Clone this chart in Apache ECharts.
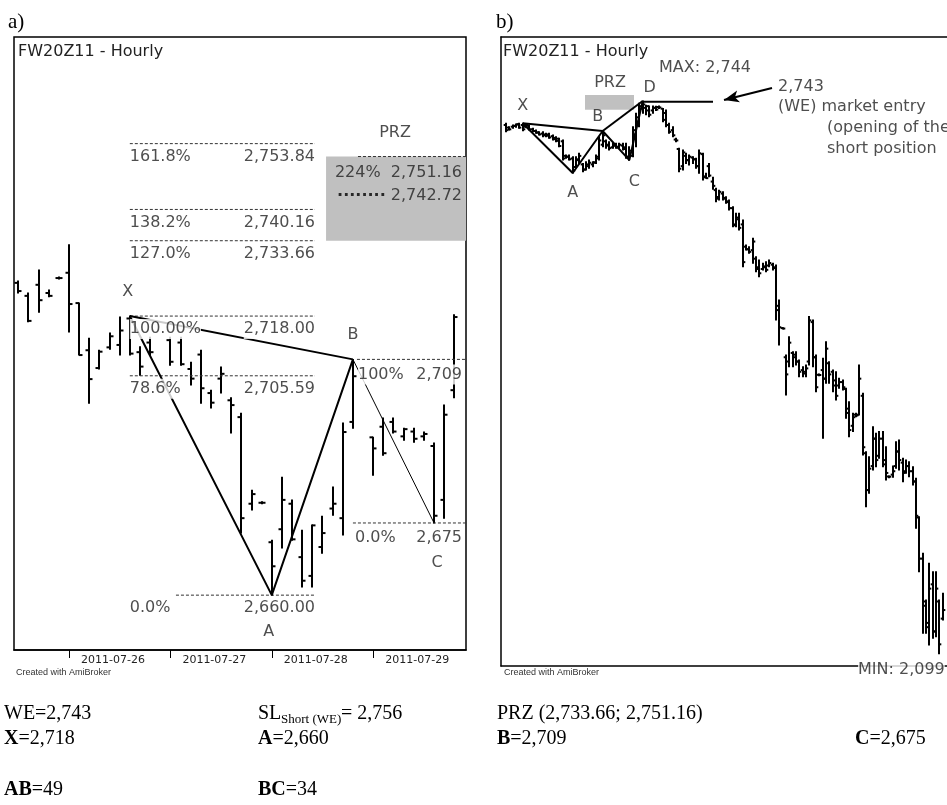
<!DOCTYPE html>
<html>
<head>
<meta charset="utf-8">
<script src="https://cdn.jsdelivr.net/npm/echarts@6/dist/echarts.min.js"></script>
<style>
  html, body { margin: 0; padding: 0; background: #fff; }
  #chart { width: 947px; height: 805px; }
</style>
</head>
<body>
<div id="chart"></div>
<script>
// ---------- Panel a: FW20Z11 hourly bars, 2011-07-25 .. 2011-07-29 ----------
// each bar: [open, close, low, high]; null = no bar drawn in that slot
const aBars = [
  [2724.9, 2723.2, 2722.8, 2725.3],
  [2722.2, 2717.0, 2716.8, 2722.8],
  [2724.5, 2721.3, 2718.8, 2727.6],
  [2722.8, 2722.2, 2722.0, 2723.4],
  [2725.9, 2725.9, 2725.7, 2726.1],
  [2727.0, 2720.5, 2714.7, 2732.8],
  [2720.7, 2709.9, 2709.9, 2720.7],
  [2710.9, 2704.9, 2699.9, 2713.4],
  [2707.2, 2710.6, 2707.0, 2710.9],
  [2711.5, 2713.8, 2711.1, 2714.5],
  [2712.0, 2715.0, 2709.9, 2717.8],
  [2717.5, 2710.2, 2709.9, 2718.0],
  [2710.5, 2707.5, 2705.7, 2711.6],
  [2712.5, 2710.5, 2709.9, 2713.6],
  null,
  [2713.0, 2708.5, 2707.8, 2713.6],
  [2712.5, 2708.0, 2707.8, 2713.6],
  [2707.0, 2705.0, 2703.7, 2708.4],
  [2710.0, 2703.0, 2699.9, 2710.9],
  [2702.0, 2700.0, 2698.9, 2702.6],
  [2705.0, 2706.0, 2702.0, 2707.4],
  [2700.5, 2699.5, 2693.7, 2701.0],
  [2697.0, 2676.0, 2672.9, 2697.8],
  [2679.0, 2681.0, 2677.7, 2681.8],
  [2679.2, 2679.2, 2679.0, 2679.4],
  [2671.0, 2666.0, 2660.0, 2671.4],
  [2673.7, 2679.8, 2669.8, 2684.5],
  [2679.0, 2671.6, 2671.4, 2679.8],
  [2667.9, 2663.0, 2661.7, 2673.5],
  [2664.0, 2674.5, 2661.7, 2674.6],
  [2670.0, 2672.9, 2668.7, 2676.4],
  [2678.0, 2679.0, 2676.6, 2682.5],
  [2676.0, 2693.9, 2672.5, 2695.8],
  [2696.0, 2705.5, 2694.7, 2709.0],
  null,
  [2692.8, 2690.5, 2684.9, 2692.8],
  [2695.0, 2689.5, 2689.1, 2696.8],
  [2696.0, 2694.0, 2693.7, 2696.8],
  [2693.0, 2694.5, 2692.2, 2694.7],
  [2694.0, 2692.5, 2691.8, 2694.7],
  [2693.0, 2693.5, 2692.2, 2693.9],
  [2691.0, 2676.5, 2675.0, 2691.6],
  [2679.8, 2697.5, 2676.0, 2699.5],
  [2702.6, 2717.8, 2701.0, 2718.3]
];
// first bar of each trading day and its date label
const aDayStart = [5, 15, 25, 35];
const aDayLabels = ['2011-07-26', '2011-07-27', '2011-07-28', '2011-07-29'];

// XABC pivots: [bar index, price]
const aX = [11, 2718], aA = [25, 2660], aB = [33, 2709], aC = [41, 2675];

// Fibonacci levels of the XA leg
const aLevels   = [2753.84, 2740.16, 2733.66, 2718.00, 2705.59, 2660.00];
const aLevelPct = ['161.8%', '138.2%', '127.0%', '100.00%', '78.6%', '0.0%'];
// BC retracement levels
const bcLevels = [2709, 2675];
const bcPct    = ['100%', '0.0%'];
// potential reversal zone
const przLow = 2733.66, przHigh = 2751.16, przMid = 2742.72, przExtPct = '224%';

// ---------- Panel b: same contract, longer window ----------
const bBars = [
  [2716.0, 2710.0, 2708.2, 2718.0], [2713.0, 2711.0, 2710.2, 2714.1], [2714.0, 2715.0, 2712.1, 2716.0],
  [2715.0, 2716.5, 2713.3, 2717.2], [2717.0, 2713.0, 2712.1, 2718.0], [2716.0, 2711.0, 2709.4, 2718.0],
  [2714.0, 2716.0, 2713.3, 2717.2], [2715.0, 2711.0, 2710.2, 2716.0], [2711.0, 2709.0, 2708.2, 2712.1],
  [2709.0, 2707.0, 2706.3, 2710.2], [2707.5, 2705.0, 2704.4, 2708.2], [2706.0, 2704.0, 2702.4, 2708.2],
  [2705.0, 2703.5, 2702.4, 2706.3], [2705.0, 2701.5, 2700.5, 2706.3], [2703.0, 2699.5, 2698.5, 2704.4],
  [2701.0, 2697.5, 2696.6, 2702.4], [2700.0, 2691.5, 2690.7, 2700.5], [2697.0, 2677.0, 2675.1, 2698.5],
  [2680.0, 2679.0, 2677.1, 2681.0], [2679.0, 2676.0, 2675.1, 2681.0], [2677.0, 2663.0, 2660.0, 2679.0],
  [2667.0, 2676.0, 2666.0, 2679.0], [2675.0, 2680.0, 2671.2, 2682.9], [2670.0, 2664.0, 2661.5, 2671.2],
  [2664.0, 2670.0, 2663.5, 2673.2], [2668.0, 2672.0, 2665.4, 2675.1], [2670.0, 2672.5, 2667.3, 2673.2],
  [2672.0, 2679.0, 2671.2, 2681.0], [2677.0, 2698.0, 2675.1, 2702.4], [2693.0, 2704.0, 2690.7, 2709.0],
  [2697.0, 2692.0, 2688.8, 2698.5], [2693.0, 2689.0, 2686.8, 2696.6], [2690.0, 2692.0, 2688.8, 2694.6],
  [2692.0, 2690.0, 2688.8, 2694.6], [2690.0, 2693.0, 2688.8, 2694.6], [2692.0, 2688.0, 2686.8, 2694.6],
  [2690.0, 2679.0, 2677.1, 2694.6], [2679.0, 2686.0, 2675.0, 2690.7], [2680.0, 2710.0, 2679.0, 2714.1],
  [2705.0, 2725.0, 2690.7, 2729.6], [2720.0, 2738.0, 2714.1, 2741.3], [2735.0, 2740.0, 2729.6, 2744.0],
  [2736.0, 2733.0, 2728.0, 2739.0], [2738.0, 2728.0, 2725.7, 2738.2], [2733.0, 2736.0, 2729.6, 2738.2],
  [2736.0, 2734.0, 2733.0, 2738.0], [2737.0, 2736.5, 2735.4, 2738.2], [2735.0, 2722.0, 2719.9, 2735.4],
  [2730.0, 2716.0, 2714.1, 2733.5], [2716.0, 2708.0, 2706.3, 2718.0], [2710.0, 2704.0, 2702.4, 2714.1],
  [2699.0, 2698.0, 2696.6, 2700.5], [2688.0, 2665.0, 2661.5, 2688.8], [2668.0, 2684.0, 2663.5, 2686.8],
  [2680.0, 2675.0, 2671.2, 2682.9], [2675.0, 2679.0, 2669.3, 2681.0], [2678.0, 2676.0, 2671.2, 2679.0],
  [2676.0, 2668.0, 2665.4, 2677.1], [2668.0, 2683.0, 2659.6, 2686.8], [2682.0, 2655.0, 2651.8, 2682.9],
  [2656.0, 2654.0, 2653.8, 2659.6], [2668.0, 2657.0, 2655.7, 2671.2], [2650.0, 2645.0, 2641.0, 2655.0],
  [2640.0, 2630.0, 2626.5, 2642.1], [2632.0, 2638.0, 2628.5, 2640.0], [2636.0, 2631.0, 2628.5, 2638.2],
  [2630.0, 2626.0, 2624.6, 2632.4], [2627.0, 2619.0, 2616.8, 2628.5], [2619.0, 2599.0, 2597.4, 2620.7],
  [2600.0, 2606.0, 2597.4, 2612.9], [2608.0, 2596.0, 2593.5, 2612.9], [2600.0, 2556.0, 2550.7, 2605.2],
  [2574.0, 2571.0, 2570.1, 2576.0], [2571.0, 2568.0, 2566.3, 2574.0], [2570.0, 2580.0, 2554.6, 2583.8],
  [2560.0, 2548.0, 2544.9, 2562.4], [2550.0, 2543.0, 2539.0, 2558.5], [2548.0, 2551.0, 2546.8, 2554.6],
  [2550.0, 2547.0, 2544.9, 2556.5], [2552.0, 2555.0, 2550.7, 2558.5], [2553.0, 2549.0, 2546.8, 2554.6],
  [2550.0, 2500.0, 2488.5, 2552.6], [2505.0, 2480.0, 2459.3, 2511.8], [2479.0, 2478.5, 2478.0, 2479.5],
  [2445.0, 2425.0, 2401.0, 2447.6], [2440.0, 2462.0, 2434.0, 2469.0], [2450.0, 2445.0, 2434.0, 2451.5],
  [2448.0, 2440.0, 2435.9, 2451.5], [2440.0, 2428.0, 2422.3, 2441.8], [2430.0, 2426.0, 2422.3, 2434.0],
  [2428.0, 2432.0, 2422.3, 2435.9], [2440.0, 2488.0, 2435.9, 2492.4], [2486.0, 2445.0, 2434.0, 2488.5],
  [2445.0, 2410.0, 2404.8, 2447.6], [2424.5, 2424.3, 2423.5, 2425.5], [2430.0, 2420.0, 2350.4, 2443.7],
  [2420.0, 2455.0, 2414.6, 2463.2], [2438.0, 2425.0, 2414.6, 2439.8], [2428.0, 2412.0, 2404.8, 2430.1],
  [2418.0, 2400.0, 2395.1, 2428.2], [2412.0, 2416.0, 2408.7, 2420.4], [2416.0, 2410.0, 2406.8, 2418.4],
  [2408.0, 2380.0, 2373.7, 2408.7], [2385.0, 2360.0, 2352.3, 2393.2], [2365.0, 2375.0, 2358.2, 2379.5],
  [2378.0, 2377.0, 2375.7, 2379.5], [2378.0, 2420.0, 2377.6, 2435.9], [2400.0, 2340.0, 2330.9, 2402.9],
  [2333.0, 2290.0, 2270.6, 2334.8], [2290.0, 2315.0, 2286.2, 2329.0], [2318.0, 2350.0, 2313.4, 2364.0],
  [2350.0, 2325.0, 2317.3, 2356.2], [2330.0, 2350.0, 2327.0, 2358.2], [2350.0, 2320.0, 2317.3, 2358.2],
  [2325.0, 2310.0, 2301.7, 2340.6], [2305.8, 2305.6, 2304.5, 2306.5], [2308.0, 2312.0, 2305.0, 2318.0],
  [2318.0, 2335.0, 2315.4, 2346.5], [2335.0, 2325.0, 2313.4, 2348.4], [2322.0, 2310.0, 2299.8, 2327.0],
  [2312.0, 2318.0, 2309.5, 2325.1], [2318.0, 2312.0, 2305.6, 2323.1], [2312.0, 2300.0, 2295.9, 2317.3],
  [2300.0, 2260.0, 2245.3, 2303.7], [2258.0, 2210.0, 2194.8, 2259.0], [2210.0, 2160.0, 2122.8, 2216.2],
  [2155.0, 2130.0, 2122.8, 2161.7], [2135.0, 2175.0, 2109.2, 2204.5], [2180.0, 2125.0, 2117.0, 2194.8],
  [2125.0, 2175.0, 2118.9, 2194.8], [2160.0, 2110.0, 2099.0, 2161.7], [2140.0, 2150.0, 2138.4, 2169.5]
];
// XABCD pivots: [bar index, price]
const bX = [5, 2718], bA = [20, 2660], bB = [29, 2709], bC = [37, 2675], bD = [41, 2744];
const bMax = 2744, bMin = 2099, bEntry = 2743;

// ---------- helpers ----------
const fmt = (v, d) => v.toLocaleString('en-US', { minimumFractionDigits: d, maximumFractionDigits: d });
const SANS = 'DejaVu Sans';
const SERIF = 'Liberation Serif';

// OHLC bar: vertical high-low stroke, open tick left, close tick right
function ohlcSeries(bars, axis, tick, width) {
  const data = [];
  bars.forEach((b, i) => { if (b) data.push([i, b[0], b[1], b[2], b[3]]); });
  return {
    type: 'custom', xAxisIndex: axis, yAxisIndex: axis, z: 2, clip: true, silent: true,
    data,
    encode: { x: 0, y: [1, 2, 3, 4] },
    renderItem(params, api) {
      const i = api.value(0);
      const o = api.coord([i, api.value(1)]);
      const c = api.coord([i, api.value(2)]);
      const l = api.coord([i, api.value(3)]);
      const h = api.coord([i, api.value(4)]);
      const x = Math.round(h[0]);
      const st = { stroke: '#000', lineWidth: width };
      return {
        type: 'group',
        children: [
          { type: 'line', shape: { x1: x, y1: h[1] - 0.5, x2: x, y2: l[1] + 0.5 }, style: st },
          { type: 'line', shape: { x1: x - width / 2 - tick, y1: o[1], x2: x, y2: o[1] }, style: st },
          { type: 'line', shape: { x1: x, y1: c[1], x2: x + width / 2 + tick, y2: c[1] }, style: st }
        ]
      };
    }
  };
}

function lineSeries(axis, pts, width, type, color, z) {
  return {
    type: 'line', xAxisIndex: axis, yAxisIndex: axis, data: pts, symbol: 'none', silent: true,
    lineStyle: { color: color || '#000', width, type: type || 'solid' }, z: z || 3
  };
}

function textSeries(axis, items) {
  return {
    type: 'scatter', xAxisIndex: axis, yAxisIndex: axis, symbolSize: 0, z: 10, silent: true,
    itemStyle: { color: 'transparent' },
    data: items.map(t => ({
      value: [t.x, t.y],
      label: Object.assign({
        show: true, formatter: t.text, position: [0, 0],
        align: t.align || 'left', verticalAlign: 'middle',
        offset: [t.dx || 0, t.dy || 0],
        fontFamily: SANS, fontSize: 16, color: '#222',
        backgroundColor: t.bg === undefined ? '#fff' : t.bg,
        padding: [2, 0]
      }, t.style || {})
    }))
  };
}

// ---------- panel a annotations ----------
const aSeries = [];
aSeries.push({
  type: 'line', xAxisIndex: 0, yAxisIndex: 0, data: [], z: 1, silent: true,
  markArea: { silent: true, itemStyle: { color: '#c0c0c0' },
    data: [[{ coord: [30.35, przHigh] }, { coord: [44.15, przLow] }]] }
});
aLevels.forEach((lv) => {
  const start = lv === aA[1] ? 15.55 : 11.0;
  aSeries.push(lineSeries(0, [[start, lv], [29.26, lv]], 1, [3, 2], '#333'));
});
bcLevels.forEach((lv, k) => {
  aSeries.push(lineSeries(0, [[k === 0 ? 33.4 : 33.0, lv], [44.15, lv]], 1, [3, 2], '#333'));
});
aSeries.push(lineSeries(0, [[33.5, przHigh], [44.15, przHigh]], 1, [3, 2], '#333'));
aSeries.push(ohlcSeries(aBars, 0, 2.5, 2));
aSeries.push(lineSeries(0, [aX, aA, aB], 2));
aSeries.push(lineSeries(0, [aX, aB], 2));
aSeries.push(lineSeries(0, [aB, aC], 1));

const aLabels = [];
aLevels.forEach((lv, k) => {
  aLabels.push({ x: 11.0, y: lv, text: aLevelPct[k], dy: 13 });
  aLabels.push({ x: 29.26, y: lv, text: fmt(lv, 2), align: 'right', dy: 13 });
});
bcLevels.forEach((lv, k) => {
  aLabels.push({ x: k === 0 ? 33.5 : 33.2, y: lv, text: bcPct[k], dy: 15 });
  aLabels.push({ x: 43.76, y: lv, text: fmt(lv, 0), align: 'right', dy: 15 });
});
aLabels.push({ x: 37.15, y: przHigh, text: 'PRZ', align: 'center', dy: -24, bg: null });
aLabels.push({ x: 43.76, y: przHigh, text: przExtPct + '  ' + fmt(przHigh, 2), align: 'right', dy: 16, bg: null });
aLabels.push({ x: 43.76, y: przMid, text: '{d|········} ' + fmt(przMid, 2), align: 'right', dy: -1, bg: null,
  style: { rich: { d: { fontFamily: SANS, fontSize: 16, fontWeight: 'bold', color: '#000' } } } });
aLabels.push({ x: aX[0], y: aX[1], text: 'X', align: 'center', dy: -24, dx: -2, bg: null });
aLabels.push({ x: aA[0], y: aA[1], text: 'A', align: 'center', dy: 37, dx: -3, bg: null });
aLabels.push({ x: aB[0], y: aB[1], text: 'B', align: 'center', dy: -25, bg: null });
aLabels.push({ x: aC[0], y: aC[1], text: 'C', align: 'center', dy: 40, dx: 3, bg: null });
aSeries.push(textSeries(0, aLabels));

// ---------- panel b annotations ----------
const bSeries = [];
bSeries.push({
  type: 'line', xAxisIndex: 1, yAxisIndex: 1, data: [], z: 1, silent: true,
  markArea: { silent: true, itemStyle: { color: '#c0c0c0' },
    data: [[{ coord: [23.7, przHigh] }, { coord: [38.4, przLow] }]] }
});
bSeries.push(ohlcSeries(bBars, 1, 1.3, 2));
bSeries.push(lineSeries(1, [bX, bA, bB, bC, bD], 2));
bSeries.push(lineSeries(1, [bX, bB], 2));
bSeries.push(lineSeries(1, [bB, bD], 2));
bSeries.push(lineSeries(1, [[bD[0], bEntry], [62.1, bEntry]], 2));
bSeries.push({
  type: 'line', xAxisIndex: 1, yAxisIndex: 1, data: [], z: 4, silent: true,
  markLine: {
    silent: true, symbol: ['none', 'arrow'], symbolSize: [9, 15], label: { show: false },
    lineStyle: { color: '#000', width: 2, type: 'solid' },
    data: [[{ coord: [79.8, 2759.2] }, { coord: [65.4, 2745.2] }]]
  }
});
const bLabels = [
  { x: bX[0], y: bX[1], text: 'X', align: 'center', dy: -17, bg: null },
  { x: bA[0], y: bA[1], text: 'A', align: 'center', dy: 20, bg: null },
  { x: bB[0], y: bB[1], text: 'B', align: 'center', dy: -14, dx: -5, bg: null },
  { x: bC[0], y: bC[1], text: 'C', align: 'center', dy: 22, dx: 5, bg: null },
  { x: bD[0], y: bD[1], text: 'D', align: 'center', dy: -13, dx: 7, bg: null },
  { x: 31.2, y: przHigh, text: 'PRZ', align: 'center', dy: -12, bg: null },
  { x: 45.9, y: bMax, text: 'MAX: ' + fmt(bMax, 0), dy: -33, bg: null },
  { x: 81.6, y: bEntry, text: fmt(bEntry, 0), dy: -15, bg: null },
  { x: 81.6, y: bEntry, text: '(WE) market entry', dy: 5, bg: null },
  { x: 96.3, y: bEntry, text: '(opening of the', dy: 26, bg: null },
  { x: 96.3, y: bEntry, text: 'short position', dy: 47, bg: null },
  { x: 105.6, y: bMin, text: 'MIN: ' + fmt(bMin, 0), dy: 16 }
];
bSeries.push(textSeries(1, bLabels));

// ---------- text outside the plots ----------
const txt = (x, y, text, font, extra) => ({
  type: 'text', x, y, silent: true,
  style: Object.assign({ text, font, fill: '#000', verticalAlign: 'middle' }, extra || {})
});
const noteFont = '20px "' + SERIF + '"';
const noteRich = {
  b: { fontFamily: SERIF, fontSize: 20, fontWeight: 'bold', fill: '#000' },
  n: { fontFamily: SERIF, fontSize: 20, fill: '#000' }
};
const graphic = [
  txt(8, 22, 'a)', '21px "' + SERIF + '"'),
  txt(496, 22, 'b)', '21px "' + SERIF + '"'),
  txt(18, 52, 'FW20Z11 - Hourly', '16px "' + SANS + '"', { fill: '#222' }),
  txt(503, 52, 'FW20Z11 - Hourly', '16px "' + SANS + '"', { fill: '#222' }),
  txt(16, 673, 'Created with AmiBroker', '9px "Liberation Sans"', { fill: '#333' }),
  txt(504, 673, 'Created with AmiBroker', '9px "Liberation Sans"', { fill: '#333' }),
  txt(4, 714, 'WE=2,743', noteFont),
  txt(258, 714, 'SL', noteFont),
  txt(281, 720, 'Short (WE)', '13px "' + SERIF + '"'),
  txt(341, 714, '= 2,756', noteFont),
  txt(497, 714, 'PRZ (' + fmt(przLow, 2) + '; ' + fmt(przHigh, 2) + ')', noteFont),
  txt(4, 739, '{b|X}{n|=' + fmt(aX[1], 0) + '}', noteFont, { rich: noteRich }),
  txt(258, 739, '{b|A}{n|=' + fmt(aA[1], 0) + '}', noteFont, { rich: noteRich }),
  txt(497, 739, '{b|B}{n|=' + fmt(aB[1], 0) + '}', noteFont, { rich: noteRich }),
  txt(855, 739, '{b|C}{n|=' + fmt(aC[1], 0) + '}', noteFont, { rich: noteRich }),
  txt(4, 790, '{b|AB}{n|=' + (aB[1] - aA[1]) + '}', noteFont, { rich: noteRich }),
  txt(258, 790, '{b|BC}{n|=' + (aB[1] - aC[1]) + '}', noteFont, { rich: noteRich })
];

const frameLine = { show: true, onZero: false, lineStyle: { color: '#000', width: 1.5 } };
const chart = echarts.init(document.getElementById('chart'), null, { renderer: 'canvas' });
chart.setOption({
  animation: false,
  backgroundColor: '#fff',
  grid: [
    { left: 14, top: 37, width: 452, height: 613, show: true, borderColor: '#000', borderWidth: 1.5, backgroundColor: '#fff' },
    // panel b runs past the right edge of the page: frame drawn by its axis lines (left, top, bottom)
    { left: 501, top: 37, right: 0, height: 629, show: false }
  ],
  xAxis: [
    {
      type: 'value', gridIndex: 0, min: -0.42, max: 44.15,
      splitLine: { show: false },
      axisLine: frameLine,
      axisTick: { show: true, customValues: aDayStart, length: 8, lineStyle: { color: '#000', width: 1 } },
      axisLabel: {
        show: true, customValues: aDayStart,
        formatter: v => aDayLabels[aDayStart.indexOf(v)] || '',
        align: 'left', margin: 5, padding: [0, 0, 0, 12],
        fontFamily: SANS, fontSize: 11, color: '#222'
      }
    },
    { type: 'value', gridIndex: 1, min: -1.5, max: 132.3, position: 'bottom',
      axisLine: frameLine, axisTick: { show: false }, axisLabel: { show: false }, splitLine: { show: false } },
    { type: 'value', gridIndex: 1, min: -1.5, max: 132.3, position: 'top',
      axisLine: frameLine, axisTick: { show: false }, axisLabel: { show: false }, splitLine: { show: false } }
  ],
  yAxis: [
    { type: 'value', gridIndex: 0, min: 2648.6, max: 2776.0, show: false, splitLine: { show: false } },
    { type: 'value', gridIndex: 1, min: 2084.7, max: 2818.7, position: 'left',
      axisLine: frameLine, axisTick: { show: false }, axisLabel: { show: false }, splitLine: { show: false } }
  ],
  series: aSeries.concat(bSeries),
  graphic
});
</script>
</body>
</html>
